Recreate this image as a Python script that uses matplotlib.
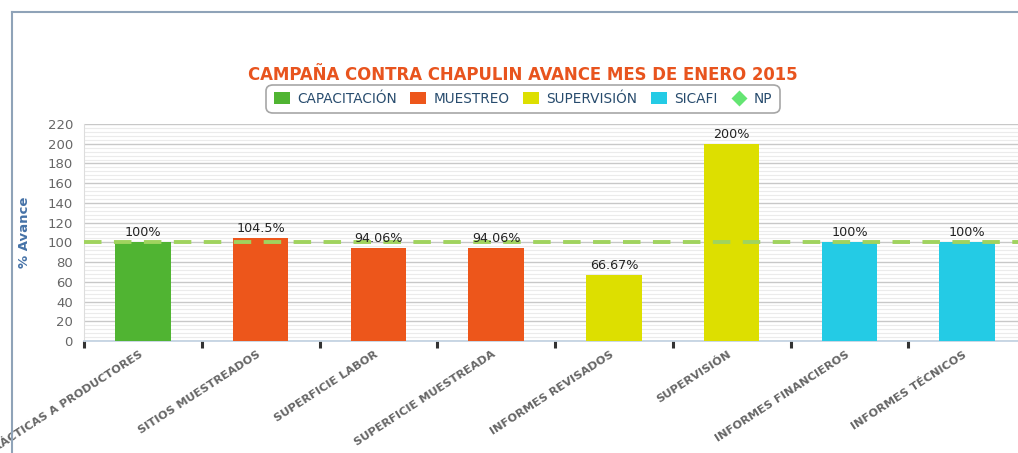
import matplotlib
matplotlib.use("Agg")
import matplotlib.pyplot as plt
from matplotlib.patches import Patch
from matplotlib.lines import Line2D
import matplotlib.transforms as mtransforms
import numpy as np

categories = ["CAPACITACIONES PRÁCTICAS A PRODUCTORES", "SITIOS MUESTREADOS", "SUPERFICIE LABOR",
              "SUPERFICIE MUESTREADA", "INFORMES REVISADOS", "SUPERVISIÓN",
              "INFORMES FINANCIEROS", "INFORMES TÉCNICOS"]
values = [100, 104.5, 94.06, 94.06, 66.67, 200, 100, 100]
labels = ["100%", "104.5%", "94.06%", "94.06%", "66.67%", "200%", "100%", "100%"]
groups = ["CAPACITACIÓN", "MUESTREO", "MUESTREO", "MUESTREO", "SUPERVISIÓN", "SUPERVISIÓN", "SICAFI", "SICAFI"]
series_names = ["CAPACITACIÓN", "MUESTREO", "SUPERVISIÓN", "SICAFI"]
series_colors = {"CAPACITACIÓN": "#50B432", "MUESTREO": "#ED561B", "SUPERVISIÓN": "#DDDF00", "SICAFI": "#24CBE5"}
np_value = 100

W, H = 1018, 453
fig = plt.figure(figsize=(W / 100, H / 100), dpi=100)
fig.patch.set_facecolor("white")

# outer frame lines (top and left)
fig.add_artist(Line2D([12 / W, 1.0], [1 - 12 / H, 1 - 12 / H], color="#8FA3B8", lw=1.5))
fig.add_artist(Line2D([12 / W, 12 / W], [0, 1 - 12 / H], color="#8FA3B8", lw=1.5))

left, right, top, bottom = 84, 1026, 124, 341
ax = fig.add_axes([left / W, 1 - bottom / H, (right - left) / W, (bottom - top) / H])
ax.set_facecolor("white")

x = np.arange(len(categories))
colors = [series_colors[g] for g in groups]
ax.bar(x, values, width=0.47, color=colors, zorder=3)
for xi, v, lab in zip(x, values, labels):
    ax.text(xi, v + 3, lab, ha="center", va="bottom", fontsize=9.2, color="#222222", zorder=5)

ax.axhline(np_value, color="#A0D35E", lw=2.8, ls=(0, (4.5, 3.2)), zorder=4)

ax.set_xlim(-0.5, len(categories) - 0.5)
ax.set_ylim(0, 220)
ax.set_yticks(np.arange(0, 221, 20))
ax.set_yticks(np.arange(0, 221, 4), minor=True)
ax.yaxis.grid(True, which="major", color="#C8C8C8", lw=1, zorder=0)
ax.yaxis.grid(True, which="minor", color="#EBEBEB", lw=0.8, zorder=0)
ax.tick_params(axis="y", which="both", length=0, labelsize=9.5, labelcolor="#666666", pad=8)

ax.set_xticks(x)
ax.set_xticklabels(categories, rotation=33, ha="right", rotation_mode="anchor",
                   fontsize=8.2, fontweight="bold", color="#666666")
ax.tick_params(axis="x", which="major", length=0, pad=6)
offset = mtransforms.ScaledTranslation(-4 / 100, 0, fig.dpi_scale_trans)
for t in ax.get_xticklabels():
    t.set_transform(t.get_transform() + offset)
    t.set_clip_on(False)
ax.set_xticks(np.arange(-0.5, len(categories), 1), minor=True)
ax.tick_params(axis="x", which="minor", length=5, width=2.2, color="#333333", direction="out")

for s in ["top", "right"]:
    ax.spines[s].set_visible(False)
ax.spines["left"].set_color("#DDDDDD")
ax.spines["bottom"].set_color("#C0D0E0")
ax.spines["bottom"].set_linewidth(1.2)

ax.set_ylabel("% Avance", fontsize=9.5, fontweight="bold", color="#4572A7", labelpad=12)

fig.text(523 / W, 1 - 75 / H, "CAMPAÑA CONTRA CHAPULIN AVANCE MES DE ENERO 2015",
         ha="center", va="center", fontsize=13.2, fontweight="bold", fontstretch="condensed",
         family=["DejaVu Sans"], color="#E8541E")

handles = [Patch(facecolor=series_colors[n], edgecolor="none", label=n) for n in series_names]
handles.append(Line2D([], [], marker="D", color="none", markerfacecolor="#64E572",
                      markeredgecolor="none", markersize=8, label="NP"))
leg = fig.legend(handles=handles, loc="center", bbox_to_anchor=(523 / W, 1 - 99 / H), ncol=5,
                 frameon=True, fontsize=9.8, handlelength=1.2, handleheight=1.0,
                 handletextpad=0.5, columnspacing=1.0, borderpad=0.35, fancybox=True)
for t in leg.get_texts():
    t.set_color("#274B6D")
fr = leg.get_frame()
fr.set_edgecolor("#909090")
fr.set_linewidth(1.2)
fr.set_boxstyle("round,pad=0.2,rounding_size=0.5")

fig.savefig("out.png", dpi=100)
